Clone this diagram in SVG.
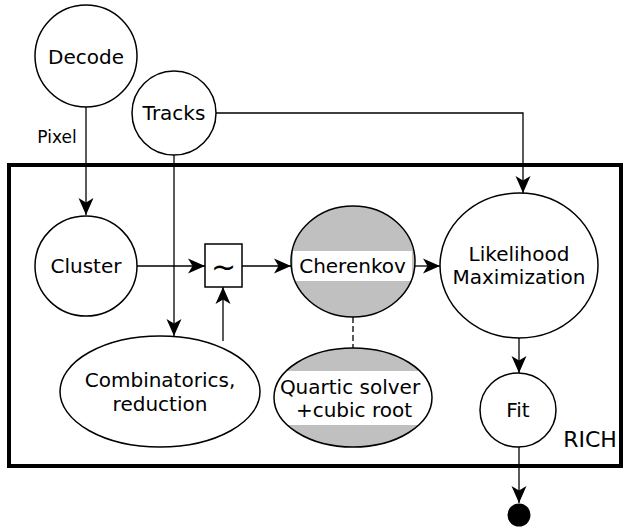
<svg xmlns="http://www.w3.org/2000/svg" width="624" height="528" viewBox="0 0 624 528">
<style>
.node{fill:#fff;stroke:#000;stroke-width:1.5}
.gray{fill:#c0c0c0;stroke:none}
.outline{fill:none;stroke:#000;stroke-width:1.5}
.band{fill:#fff}
.t{font-family:"DejaVu Sans",sans-serif;font-size:20px;fill:#000;text-anchor:middle}
.edge{fill:none;stroke:#000;stroke-width:1.3}
</style>
<defs>
<marker id="arr" markerUnits="userSpaceOnUse" markerWidth="20" markerHeight="20" viewBox="-19 -10 20 20" refX="0" refY="0" orient="auto">
<path d="M0,0 L-17,-7.5 L-12.5,0 L-17,7.5 Z" fill="#000"/>
</marker>
<clipPath id="cc"><ellipse cx="353" cy="261.5" rx="62" ry="55.5"/></clipPath>
<clipPath id="qc"><ellipse cx="353" cy="397.5" rx="79" ry="49.5"/></clipPath>
</defs>
<g id="rich">
<rect x="9" y="165" width="612" height="301" fill="none" stroke="#000" stroke-width="4"/>
<text x="590" y="447" style="font-family:'DejaVu Sans',sans-serif;font-size:22px;text-anchor:middle">RICH</text>
</g>
<g id="connectors">
<line class="edge" x1="86" y1="107" x2="86" y2="215" marker-end="url(#arr)"/>
<text x="57" y="143" style="font-family:'DejaVu Sans',sans-serif;font-size:17px;text-anchor:middle">Pixel</text>
<line class="edge" x1="174" y1="155" x2="174" y2="336" marker-end="url(#arr)"/>
<polyline class="edge" points="216,113 523,113 523,193" marker-end="url(#arr)"/>
<line class="edge" x1="137" y1="266" x2="205" y2="266" marker-end="url(#arr)"/>
<line class="edge" x1="242" y1="266" x2="291" y2="266" marker-end="url(#arr)"/>
<line class="edge" x1="223" y1="341" x2="223" y2="287" marker-end="url(#arr)"/>
<line class="edge" x1="415" y1="266" x2="440" y2="266" marker-end="url(#arr)"/>
<line class="edge" x1="353" y1="317" x2="353" y2="348" stroke-dasharray="6,3"/>
<line class="edge" x1="519" y1="338" x2="519" y2="373" marker-end="url(#arr)"/>
<line class="edge" x1="519" y1="447" x2="519" y2="503" marker-end="url(#arr)"/>
</g>
<g id="decode">
<circle class="node" cx="86" cy="56" r="51"/>
<text class="t" x="86" y="64">Decode</text>
</g>
<g id="tracks">
<circle class="node" cx="174" cy="113" r="42"/>
<text class="t" x="174" y="120">Tracks</text>
</g>
<g id="cluster">
<ellipse class="node" cx="86" cy="266" rx="51" ry="50"/>
<text class="t" x="86" y="273">Cluster</text>
</g>
<g id="tilde">
<rect class="node" x="205" y="244" width="37" height="43"/>
<text class="t" x="223.5" y="277" style="font-size:30px">~</text>
</g>
<g id="cherenkov">
<ellipse class="gray" cx="353" cy="261.5" rx="62" ry="55.5"/>
<rect class="band" x="293" y="251" width="119" height="30" clip-path="url(#cc)"/>
<ellipse class="outline" cx="353" cy="261.5" rx="62" ry="55.5"/>
<text class="t" x="352.5" y="273">Cherenkov</text>
</g>
<g id="combinatorics">
<ellipse class="node" cx="160" cy="391.5" rx="100" ry="55.5"/>
<text class="t" x="160" y="387">Combinatorics,</text>
<text class="t" x="160" y="411">reduction</text>
</g>
<g id="quartic">
<ellipse class="gray" cx="353" cy="397.5" rx="79" ry="49.5"/>
<rect class="band" x="270" y="371" width="166" height="54" clip-path="url(#qc)"/>
<ellipse class="outline" cx="353" cy="397.5" rx="79" ry="49.5"/>
<text class="t" x="350" y="394">Quartic solver</text>
<text class="t" x="354" y="417">+cubic root</text>
</g>
<g id="likelihood">
<ellipse class="node" cx="519" cy="265.5" rx="79" ry="72.5"/>
<text class="t" x="519" y="261">Likelihood</text>
<text class="t" x="519" y="284">Maximization</text>
</g>
<g id="fit">
<ellipse class="node" cx="518" cy="410" rx="38" ry="37"/>
<text class="t" x="518" y="417">Fit</text>
</g>
<g id="end">
<circle cx="519" cy="515" r="11.5" fill="#000"/>
</g>
</svg>
